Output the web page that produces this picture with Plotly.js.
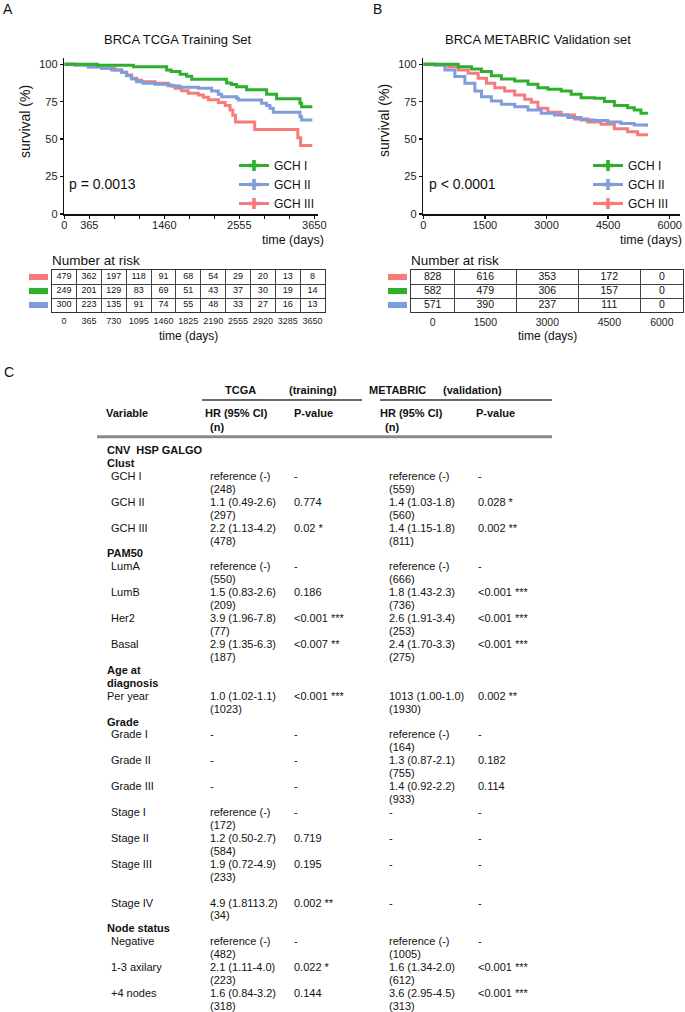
<!DOCTYPE html>
<html><head><meta charset="utf-8">
<script src="https://cdn.plot.ly/plotly-3.0.1.min.js"></script>
<style>html,body{margin:0;padding:0;background:#fff}#chart{width:685px;height:1012px}</style>
</head><body><div id="chart"></div>
<script>
// ---------------- DATA ----------------
// Panel A: BRCA TCGA Training Set (Kaplan-Meier, survival %)
const tcgaG1Days = [0,480,1010,1494,1560,1690,1786,1860,2370,2440,2516,2662,2954,3100,3441,3465,3621];
const tcgaG1Surv = [100,99.3,98.3,96.2,95.1,93.3,92.0,90.0,87.5,86.5,85.0,83.0,80.0,77.0,74.0,71.7,71.7];
const tcgaG2Days = [0,156,350,545,691,837,910,983,1056,1153,1324,1518,1567,1689,1957,2151,2249,2297,2516,2541,2881,2954,3003,3052,3441,3465,3621];
const tcgaG2Surv = [100,99.6,98.4,97.3,96.2,94.7,92.4,90.2,88.4,87.3,86.6,86.2,85.5,84.6,84.0,82.2,80.0,78.4,77.3,76.2,73.9,72.4,70.6,67.9,65.0,62.8,62.8];
const tcgaG3Days = [0,156,350,545,740,837,910,983,1056,1129,1324,1518,1616,1713,1810,1957,2030,2103,2250,2350,2420,2460,2500,2780,3410,3450,3621];
const tcgaG3Surv = [100,99.6,98.2,97.3,96.2,94.7,92.9,90.6,89.3,88.4,87.3,85.7,84.0,82.4,80.6,79.5,78.0,76.3,74.5,72.5,69.5,66.0,61.5,56.5,51.0,45.7,45.7];
// Panel B: BRCA METABRIC Validation set
const metaG1Days = [0,526,850,1173,1416,1658,1901,2225,2548,2791,3034,3357,3600,3843,4166,4409,4652,4975,5137,5299,5437];
const metaG1Surv = [100,100,98.4,96.9,95.1,92.4,90.2,88.9,86.6,84.4,83.3,82.2,80.0,77.7,77.3,75.1,72.4,71.0,69.5,67.3,66.5];
const metaG2Days = [0,283,526,769,1012,1255,1416,1658,1901,2225,2548,2872,3196,3519,3843,4166,4490,4813,5137,5437];
const metaG2Surv = [100,99.6,96.2,91.8,87.3,82.2,78.4,75.5,73.3,71.7,69.5,67.3,66.1,64.4,62.8,62.5,61.5,60.5,59.5,58.3];
const metaG3Days = [0,283,607,850,1093,1336,1538,1740,1983,2225,2468,2630,2791,3034,3357,3681,4005,4328,4652,4975,5218,5437];
const metaG3Surv = [100,99.6,98.4,96.2,94.0,90.6,87.3,84.4,82.2,79.5,76.6,74.6,70.6,67.9,66.1,63.5,61.5,60.0,57.0,55.0,53.0,52.0];

const groupNames = ['GCH I','GCH II','GCH III'];
const kmTicksA = [0,365,1460,2555,3650];
const kmTicksB = [0,1500,3000,4500,6000];
const survTicks = [0,25,50,75,100];
const pValueA = 'p = 0.0013';
const pValueB = 'p < 0.0001';

// Number at risk (rows: GCH III, GCH I, GCH II)
const riskTimesA = ['0','365','730','1095','1460','1825','2190','2555','2920','3285','3650'];
const riskA_G3 = [479,362,197,118,91,68,54,29,20,13,8];
const riskA_G1 = [249,201,129,83,69,51,43,37,30,19,14];
const riskA_G2 = [300,223,135,91,74,55,48,33,27,16,13];
const riskTimesB = [0,1500,3000,4500,6000];
const riskB_G3 = [828,616,353,172,0];
const riskB_G1 = [582,479,306,157,0];
const riskB_G2 = [571,390,237,111,0];

// Table C
const rowGroupHeaders = {0:['CNV  HSP GALGO','Clust'],3:['PAM50'],7:['Age at','diagnosis'],8:['Grade'],15:['Node status']};
const rowLabels = ['GCH I','GCH II','GCH III','LumA','LumB','Her2','Basal','Per year','Grade I','Grade II','Grade III','Stage I','Stage II','Stage III','Stage IV','Negative','1-3 axilary','+4 nodes'];
const tcgaHR = ['reference (-)','1.1 (0.49-2.6)','2.2 (1.13-4.2)','reference (-)','1.5 (0.83-2.6)','3.9 (1.96-7.8)','2.9 (1.35-6.3)','1.0 (1.02-1.1)','-','-','-','reference (-)','1.2 (0.50-2.7)','1.9 (0.72-4.9)','4.9 (1.8113.2)','reference (-)','2.1 (1.11-4.0)','1.6 (0.84-3.2)'];
const tcgaN = ['(248)','(297)','(478)','(550)','(209)','(77)','(187)','(1023)','','','','(172)','(584)','(233)','(34)','(482)','(223)','(318)'];
const tcgaP = ['-','0.774','0.02 *','-','0.186','<0.001 ***','<0.007 **','<0.001 ***','-','-','-','-','0.719','0.195','0.002 **','-','0.022 *','0.144'];
const metaHR = ['reference (-)','1.4 (1.03-1.8)','1.4 (1.15-1.8)','reference (-)','1.8 (1.43-2.3)','2.6 (1.91-3.4)','2.4 (1.70-3.3)','1013 (1.00-1.0)','reference (-)','1.3 (0.87-2.1)','1.4 (0.92-2.2)','-','-','-','-','reference (-)','1.6 (1.34-2.0)','3.6 (2.95-4.5)'];
const metaN = ['(559)','(560)','(811)','(666)','(736)','(253)','(275)','(1930)','(164)','(755)','(933)','','','','','(1005)','(612)','(313)'];
const metaP = ['-','0.028 *','0.002 **','-','<0.001 ***','<0.001 ***','<0.001 ***','0.002 **','-','0.182','0.114','-','-','-','-','-','<0.001 ***','<0.001 ***'];

// ---------------- LAYOUT / STYLE ----------------
const W=685, H=1012;
const px = x => x/W;
const py = y => 1 - y/H;
const FONT = 'Liberation Sans, Arial, Helvetica, sans-serif';
const INK = '#111';
const RED='#F77B7B', GREEN='#2EB02E', BLUE='#7F9CDB';
const colors = [GREEN, BLUE, RED];

const traces = [];
function km(days, surv, color, xa, ya){
  traces.push({type:'scatter', mode:'lines', x:days, y:surv, xaxis:xa, yaxis:ya,
    line:{color:color, width:3, shape:'hv'}, showlegend:false, hoverinfo:'skip'});
}
km(tcgaG3Days,tcgaG3Surv,RED,'x','y');
km(tcgaG2Days,tcgaG2Surv,BLUE,'x','y');
km(tcgaG1Days,tcgaG1Surv,GREEN,'x','y');
km(metaG3Days,metaG3Surv,RED,'x2','y2');
km(metaG2Days,metaG2Surv,BLUE,'x2','y2');
km(metaG1Days,metaG1Surv,GREEN,'x2','y2');
// legend entries
groupNames.forEach((g,i)=>{
  ['legend','legend2'].forEach((lg,j)=>{
    traces.push({type:'scatter', mode:'lines+markers', x:[null], y:[null],
      xaxis: j? 'x2':'x', yaxis: j? 'y2':'y', name:g, legend:lg,
      line:{color:colors[i], width:3}, marker:{symbol:'cross', size:9, color:colors[i], line:{width:0}},
      showlegend:true, hoverinfo:'skip'});
  });
});

// risk tables
const riskRowsA = [riskA_G3, riskA_G1, riskA_G2];
const riskRowsB = [riskB_G3, riskB_G1, riskB_G2];
const rowColors = [RED, GREEN, BLUE];
riskRowsA.forEach((row,r)=>{
  traces.push({type:'scatter', mode:'text', x:row.map((_,i)=>i), y:row.map(()=>r), text:row.map(String),
    xaxis:'x3', yaxis:'y3', textfont:{size:9, color:INK, family:FONT}, showlegend:false, hoverinfo:'skip', cliponaxis:false});
});
// table B: axis in days, cell boundaries halfway between time points
const rangeB = [-297.6, 6290];
const boundsB = [rangeB[0]];
for(let i=0;i<riskTimesB.length-1;i++) boundsB.push((riskTimesB[i]+riskTimesB[i+1])/2);
boundsB.push(rangeB[1]);
const centersB = riskTimesB.map((_,i)=>(boundsB[i]+boundsB[i+1])/2);
riskRowsB.forEach((row,r)=>{
  traces.push({type:'scatter', mode:'text', x:centersB, y:row.map(()=>r), text:row.map(String),
    xaxis:'x4', yaxis:'y4', textfont:{size:10.5, color:INK, family:FONT}, showlegend:false, hoverinfo:'skip', cliponaxis:false});
});

const kmY = {domain:[py(214), py(58.3)], range:[0,104], tickmode:'array', tickvals:survTicks,
  ticks:'outside', ticklen:3, tickwidth:1.5, tickcolor:INK, showline:true, linecolor:INK, linewidth:1.5,
  showgrid:false, zeroline:false, tickfont:{size:11, color:'#222'}, fixedrange:true};
const kmX = {ticks:'outside', ticklen:3, tickwidth:1.5, tickcolor:INK, showline:true, linecolor:INK, linewidth:1.5,
  showgrid:false, zeroline:false, tickfont:{size:11, color:'#222'}, tickmode:'array', fixedrange:true,
  ticklabelstandoff:-3};

const tblX = {showline:true, mirror:true, linecolor:'#333', linewidth:1, showgrid:false, zeroline:false,
  ticks:'', tickmode:'array', fixedrange:true};
const tblY = {showline:true, mirror:true, linecolor:'#333', linewidth:1, showgrid:false, zeroline:false,
  ticks:'', showticklabels:false, range:[2.5,-0.5], tickmode:'array', tickvals:[],
  minor:{tickmode:'array', tickvals:[0.5,1.5], showgrid:true, gridcolor:'#444', gridwidth:1, ticks:''}, fixedrange:true};

const layout = {
  width:W, height:H, margin:{l:0,r:0,t:0,b:0}, paper_bgcolor:'#fff', plot_bgcolor:'rgba(0,0,0,0)',
  font:{family:FONT, color:INK}, hovermode:false,
  xaxis: Object.assign({}, kmX, {domain:[px(64.3), px(317.7)], range:[0,3700], anchor:'y', tickvals:kmTicksA,
    minor:{tickmode:'linear', tick0:0, dtick:365, ticks:'outside', ticklen:3, tickcolor:INK, tickwidth:1, showgrid:false}}),
  yaxis: Object.assign({}, kmY, {anchor:'x'}),
  xaxis2: Object.assign({}, kmX, {domain:[px(423.3), px(680)], range:[0,6250], anchor:'y2', tickvals:kmTicksB}),
  yaxis2: Object.assign({}, kmY, {anchor:'x2'}),
  xaxis3: Object.assign({}, tblX, {domain:[px(51.7), px(325)], range:[-0.5,10.5], anchor:'y3',
    tickvals:riskTimesA.map((_,i)=>i), ticktext:riskTimesA, tickfont:{size:9, color:'#222'},
    minor:{tickmode:'array', tickvals:riskTimesA.slice(1).map((_,i)=>i+0.5), showgrid:true, gridcolor:'#444', gridwidth:1, ticks:''}}),
  yaxis3: Object.assign({}, tblY, {domain:[py(312), py(270)], anchor:'x3'}),
  xaxis4: Object.assign({}, tblX, {domain:[px(411), px(683.3)], range:rangeB, anchor:'y4',
    tickvals:centersB, ticktext:riskTimesB.map(String), tickfont:{size:10.5, color:'#222'},
    minor:{tickmode:'array', tickvals:boundsB.slice(1,-1), showgrid:true, gridcolor:'#444', gridwidth:1, ticks:''}}),
  yaxis4: Object.assign({}, tblY, {domain:[py(312), py(270)], anchor:'x4'}),
  legend:{x:px(234), y:py(151), xanchor:'left', yanchor:'top', font:{size:12, color:INK}, bgcolor:'rgba(0,0,0,0)',
    itemwidth:30, tracegroupgap:0, traceorder:'normal'},
  legend2:{x:px(588), y:py(151), xanchor:'left', yanchor:'top', font:{size:12, color:INK}, bgcolor:'rgba(0,0,0,0)',
    itemwidth:30, tracegroupgap:0, traceorder:'normal'},
  annotations:[], shapes:[]
};

function ann(text, x, y, opts){
  layout.annotations.push(Object.assign({text:text, x:px(x), y:py(y), xref:'paper', yref:'paper',
    showarrow:false, xanchor:'left', yanchor:'middle', font:{size:11, color:INK, family:FONT}}, opts||{}));
}
// panel letters & titles
ann('A', 1, 9, {font:{size:14}});
ann('B', 371, 9, {font:{size:14}});
ann('C', 2, 372, {font:{size:14}});
ann('BRCA TCGA Training Set', 178, 39, {xanchor:'center', font:{size:13}});
ann('BRCA METABRIC Validation set', 538, 39, {xanchor:'center', font:{size:13}});
ann('survival (%)', 25, 121, {xanchor:'center', textangle:-90, font:{size:14}});
ann('survival (%)', 384, 121, {xanchor:'center', textangle:-90, font:{size:14}});
ann(pValueA, 67, 184, {font:{size:14}});
ann(pValueB, 427, 184, {font:{size:14}});
ann('time (days)', 326, 240, {xanchor:'right', font:{size:12.5}});
ann('time (days)', 684, 240, {xanchor:'right', font:{size:12.5}});
ann('Number at risk', 50, 261, {font:{size:13.5}});
ann('Number at risk', 409, 261, {font:{size:13.5}});
ann('time (days)', 188, 336, {xanchor:'center', font:{size:12}});
ann('time (days)', 547, 336, {xanchor:'center', font:{size:12}});

// risk table colour keys
rowColors.forEach((c,r)=>{
  layout.shapes.push({type:'rect', xref:'paper', yref:'y3', x0:px(29), x1:px(48), y0:r-0.22, y1:r+0.22, fillcolor:c, line:{width:0}});
  layout.shapes.push({type:'rect', xref:'paper', yref:'y4', x0:px(388), x1:px(407), y0:r-0.22, y1:r+0.22, fillcolor:c, line:{width:0}});
});

// Table C
ann('<b>TCGA</b>', 240, 390, {xanchor:'center'});
ann('<b>(training)</b>', 313, 390, {xanchor:'center'});
ann('<b>METABRIC</b>', 397, 390, {xanchor:'center'});
ann('<b>(validation)</b>', 472, 390, {xanchor:'center'});
ann('<b>Variable</b>', 104, 413.3);
ann('<b>HR (95% CI)</b>', 203, 413.3);
ann('<b>(n)</b>', 208, 426.7);
ann('<b>P-value</b>', 292, 413.3);
ann('<b>HR (95% CI)</b>', 378, 413.3);
ann('<b>(n)</b>', 383, 426.7);
ann('<b>P-value</b>', 474, 413.3);
layout.shapes.push({type:'line', xref:'paper', yref:'paper', x0:px(202), x1:px(362), y0:py(400), y1:py(400), line:{color:'#333', width:1.5}});
layout.shapes.push({type:'line', xref:'paper', yref:'paper', x0:px(380), x1:px(552), y0:py(400), y1:py(400), line:{color:'#333', width:1.5}});
layout.shapes.push({type:'line', xref:'paper', yref:'paper', x0:px(97), x1:px(552), y0:py(436.7), y1:py(436.7), line:{color:'#8a8a8a', width:3}});

const LINE0 = 450, PITCH = 12.93;
let line = 0;
rowLabels.forEach((lab,i)=>{
  if(rowGroupHeaders[i]){
    rowGroupHeaders[i].forEach(h=>{ ann('<b>'+h+'</b>', 105, LINE0+line*PITCH); line++; });
  }
  if(lab==='Stage IV') line++; // blank line in the original table
  const y1 = LINE0+line*PITCH, y2 = LINE0+(line+1)*PITCH;
  ann(lab, lab==='Per year'?105:109, y1);
  ann(tcgaHR[i], 208, y1);
  if(tcgaN[i]) ann(tcgaN[i], 208, y2);
  ann(tcgaP[i], 292, y1);
  ann(metaHR[i], 387, y1);
  if(metaN[i]) ann(metaN[i], 387, y2);
  ann(metaP[i], 476, y1);
  line += 2;
});

Plotly.newPlot('chart', traces, layout, {staticPlot:true, displayModeBar:false});
</script></body></html>
